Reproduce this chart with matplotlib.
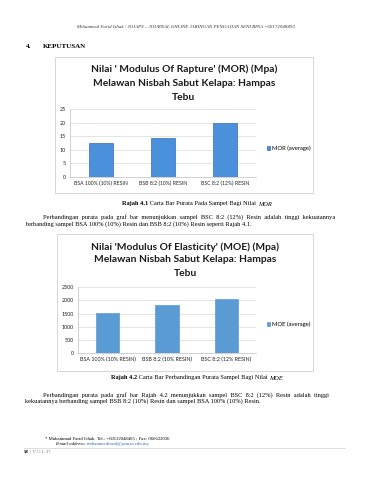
import matplotlib
matplotlib.use("Agg")
import matplotlib.pyplot as plt
from matplotlib.patches import Rectangle

W, H = 370, 480

categories_mor = ["BSA 100% (10%) RESIN", "BSB 8:2 (10%) RESIN", "BSC 8:2 (12%) RESIN"]
mor_values = [12.4, 14.2, 19.7]
mor_ticks = [0, 5, 10, 15, 20, 25]

categories_moe = ["BSA 100% (10% RESIN)", "BSB 8:2 (10% RESIN)", "BSC 8:2 (12% RESIN)"]
moe_values = [1540, 1840, 2040]
moe_ticks = [0, 500, 1000, 1500, 2000, 2500]

TITLE_FONT = ["Lato", "DejaVu Sans"]
SERIF = ["Liberation Serif", "DejaVu Serif"]
BODY = 4.6

fig = plt.figure(figsize=(W / 100, H / 100), dpi=100)
fig.patch.set_facecolor("white")
renderer = fig.canvas.get_renderer()


def fx(x):
    return x / W


def fy(y):
    return 1 - y / H


def axes_px(x0, y0, x1, y1):
    return fig.add_axes([fx(x0), fy(y1), (x1 - x0) / W, (y1 - y0) / H])


def box(x0, y0, x1, y1):
    fig.patches.append(Rectangle((fx(x0), fy(y1)), (x1 - x0) / W, (y1 - y0) / H,
                                 transform=fig.transFigure, fill=False,
                                 edgecolor="#d0d0d0", linewidth=0.6))


def txt(x, y, s, va="center", **kw):
    return fig.text(fx(x), fy(y), s, va=va, **kw)


def width_px(t):
    return t.get_window_extent(renderer).width


def runs(x, y, pieces, align="left"):
    """Place styled text pieces one after another on a common baseline (y = baseline px)."""
    arts = [txt(x, y, s, ha="left", va="baseline", **kw) for s, kw in pieces]
    widths = [width_px(a) for a in arts]
    total = sum(widths)
    cur = x - total / 2 if align == "center" else x
    for a, w in zip(arts, widths):
        a.set_x(fx(cur))
        cur += w


def chart(ax, cats, vals, ticks, color, edge, label, legend_xy, barw, xfs):
    ax.bar(range(len(cats)), vals, width=barw, color=color, edgecolor=edge,
           linewidth=0.5, zorder=3, label=label)
    ax.set_xlim(-0.5, len(cats) - 0.5)
    ax.set_ylim(ticks[0], ticks[-1])
    ax.set_yticks(ticks)
    ax.set_xticks(range(len(cats)))
    ax.set_xticklabels(cats, fontsize=xfs, family=TITLE_FONT, color="#222222")
    ax.tick_params(axis="y", labelsize=3.9, length=0, pad=3, labelcolor="#222222")
    ax.tick_params(axis="x", length=0, pad=3)
    for t in ax.get_yticklabels():
        t.set_family(TITLE_FONT)
    ax.grid(axis="y", color="#d9d9d9", linewidth=0.5, zorder=0)
    for s in ["top", "right"]:
        ax.spines[s].set_visible(False)
    for s in ["left", "bottom"]:
        ax.spines[s].set_color("#bfbfbf")
        ax.spines[s].set_linewidth(0.5)
    ax.legend(loc="center left", bbox_to_anchor=(fx(legend_xy[0]), fy(legend_xy[1])),
              bbox_transform=fig.transFigure, frameon=False,
              prop={"family": TITLE_FONT, "size": 4.2}, handlelength=0.6,
              handleheight=0.6, handletextpad=0.3, borderpad=0)


# header
txt(185, 27, "Mohammed Farid Ishak / JOJAPS – JOURNAL ONLINE JARINGAN PENGAJIAN SENI BINA +60172048493",
    ha="center", fontsize=3.5, style="italic", family=SERIF, color="#333333")
runs(26, 48, [("4.", dict(fontsize=5, weight="bold", family=SERIF))])
runs(43, 48, [("KEPUTUSAN", dict(fontsize=5, weight="bold", family=SERIF))])

# chart 1
box(55, 57, 313, 193)
for y, line in zip([69, 83, 97], ["Nilai ' Modulus Of Rapture' (MOR) (Mpa)",
                                  "Melawan Nisbah Sabut Kelapa: Hampas", "Tebu"]):
    txt(184, y, line, ha="center", fontsize=7.4, weight="bold", family=TITLE_FONT, color="#1a1a1a")
ax1 = axes_px(70, 109, 256, 177)
chart(ax1, categories_mor, mor_values, mor_ticks, "#4a90db", "#2f6fb8", "MOR (average)",
      (264, 148), 0.4, 3.7)

runs(197, 205.5, [("Rajah 4.1", dict(fontsize=BODY, weight="bold", family=SERIF)),
                  (" Carta Bar Purata Pada Sampel Bagi Nilai ", dict(fontsize=BODY, family=SERIF)),
                  ("MOR", dict(fontsize=BODY, style="italic", family=SERIF))], align="center")
runs(43, 218.5, [("Perbandingan  purata  pada  graf  bar  menunjukkan  sampel  BSC  8:2  (12%)  Resin  adalah  tinggi  kekuatannya",
                  dict(fontsize=BODY, family=SERIF))])
runs(25, 225.5, [("berbanding sampel BSA 100% (10%) Resin dan BSB 8:2 (10%) Resin seperti Rajah 4.1.",
                  dict(fontsize=BODY, family=SERIF))])

# chart 2
box(57, 234, 313, 371)
for y, line in zip([247, 260, 273], ["Nilai 'Modulus Of Elasticity' (MOE) (Mpa)",
                                     "Melawan Nisbah Sabut Kelapa: Hampas", "Tebu"]):
    txt(185, y, line, ha="center", fontsize=7.4, weight="bold", family=TITLE_FONT, color="#1a1a1a")
ax2 = axes_px(78, 287.3, 256, 353)
chart(ax2, categories_moe, moe_values, moe_ticks, "#5b9bd5", "#5b9bd5", "MOE (average)",
      (264, 324), 0.39, 3.9)

runs(197, 379.5, [("Rajah 4.2", dict(fontsize=BODY, weight="bold", family=SERIF)),
                  (" Carta Bar Perbandingan Purata Sampel Bagi Nilai ", dict(fontsize=BODY, family=SERIF)),
                  ("MOE", dict(fontsize=BODY, style="italic", family=SERIF))], align="center")
runs(43, 396.5, [("Perbandingan  purata  pada  graf  bar  Rajah  4.2  menunjukkan  sampel  BSC  8:2  (12%)  Resin  adalah  tinggi",
                  dict(fontsize=BODY, family=SERIF))])
runs(25, 402.5, [("kekuatannya berbanding sampel BSB 8:2 (10%) Resin dan sampel BSA 100% (10%) Resin.",
                  dict(fontsize=BODY, family=SERIF))])

# footnote
runs(45, 439, [("* Muhammad Farid Ishak. Tel.: +60132048465 ; Fax: 066622036", dict(fontsize=3.4, family=SERIF))])
runs(55, 445, [("E-mail address: ", dict(fontsize=3.4, family=SERIF, style="italic")),
               ("mohammedfarid@psmza.edu.my", dict(fontsize=3.4, family=SERIF, color="#3b6fb6"))])
fig.add_artist(plt.Line2D([fx(24), fx(345)], [fy(448), fy(448)], transform=fig.transFigure,
                          color="#d0d0d0", linewidth=0.5))
runs(24, 453, [("58", dict(fontsize=3.5, weight="bold", family=SERIF)),
               (" | V O L 37", dict(fontsize=3.5, family=SERIF, color="#777777"))])

fig.savefig("out.png", dpi=100, facecolor="white")
